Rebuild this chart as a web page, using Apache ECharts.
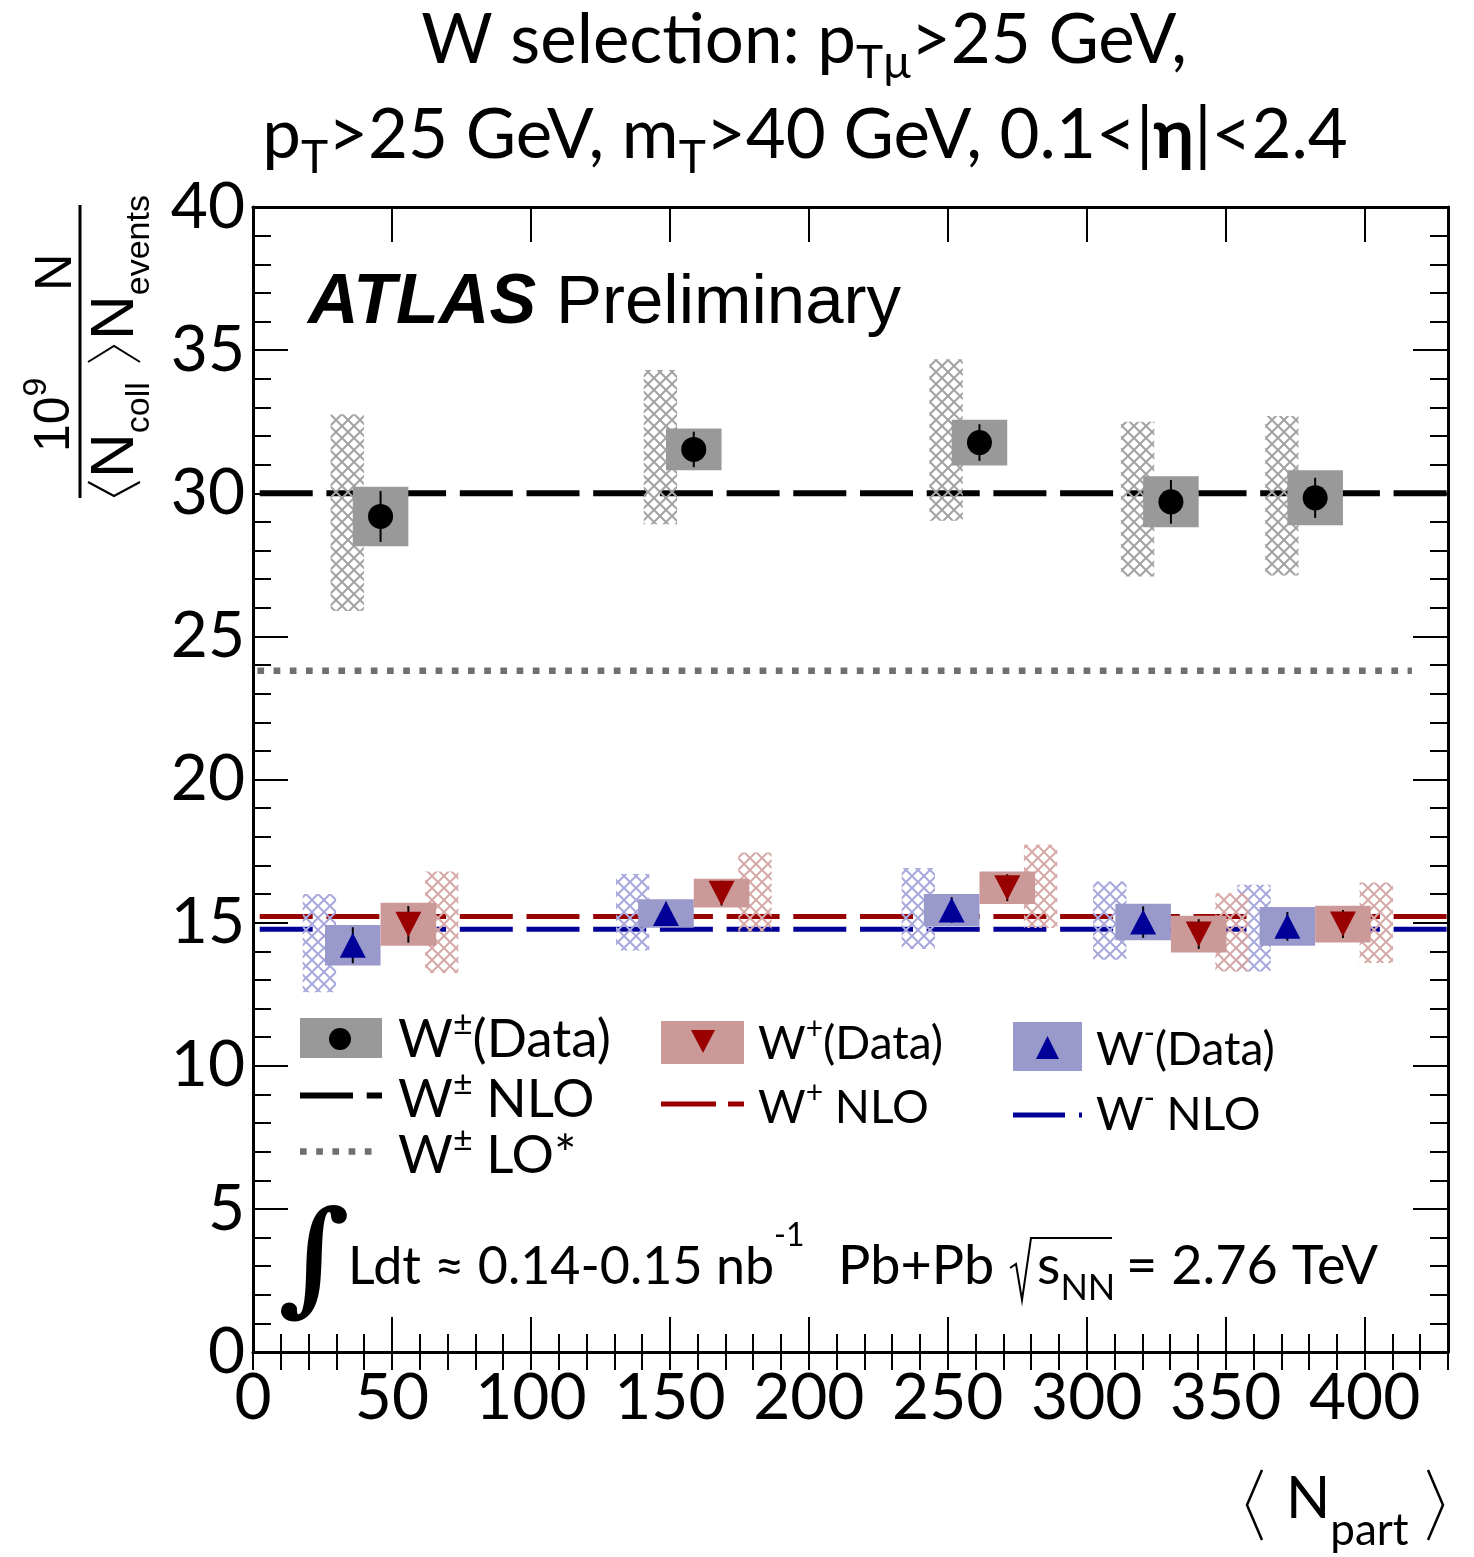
<!DOCTYPE html>
<html><head><meta charset="utf-8">
<script src="https://cdn.jsdelivr.net/npm/echarts@6/dist/echarts.min.js"></script>
<style>html,body{margin:0;padding:0;background:#fff}#c{width:1474px;height:1557px}</style>
</head><body><div id="c"></div>
<script>
// ---------------- data ----------------
const npart = [45.9, 158.6, 261.4, 330.3, 382.2];
// W+- (data)
const wpmVal  = [29.19, 31.53, 31.77, 29.70, 29.84];
const wpmStat = [0.89, 0.62, 0.64, 0.76, 0.70];
const wpmBox  = [1.04, 0.73, 0.80, 0.89, 0.96];
const wpmSysHi = [32.76, 34.31, 34.68, 32.50, 32.70];
const wpmSysLo = [25.89, 28.92, 29.04, 27.09, 27.13];
// W- (data)
const wmVal  = [14.21, 15.32, 15.44, 15.02, 14.87];
const wmStat = [0.63, 0.40, 0.45, 0.55, 0.50];
const wmBox  = [0.71, 0.50, 0.56, 0.64, 0.68];
const wmSysHi = [16.00, 16.70, 16.91, 16.44, 16.32];
const wmSysLo = [12.57, 14.03, 14.08, 13.70, 13.29];
// W+ (data)
const wpVal  = [14.94, 16.03, 16.22, 14.60, 14.95];
const wpStat = [0.64, 0.43, 0.47, 0.52, 0.49];
const wpBox  = [0.75, 0.50, 0.57, 0.64, 0.64];
const wpSysHi = [16.79, 17.45, 17.72, 16.03, 16.40];
const wpSysLo = [13.24, 14.69, 14.81, 13.29, 13.59];
// theory
const nloRange = [0, 430];
const loRange = [0, 417];
const wpmNLO = 30.0;
const wpNLO = 15.21;
const wmNLO = 14.77;
const wpmLO = 23.8;
// axes
const xTicks = [0, 50, 100, 150, 200, 250, 300, 350, 400];
const yTicks = [0, 5, 10, 15, 20, 25, 30, 35, 40];

// ---------------- rendering ----------------
const SHIFT = 10;          // horizontal display shift of W-/W+ points
const BOXW = 10;           // half width of uncertainty boxes
const HATCH = [6, 18];     // hatch box offset range from point

const chart = echarts.init(document.getElementById('c'), null, {renderer: 'canvas'});

function makeHatch(color) {
  const s = 12;
  const c = document.createElement('canvas');
  c.width = s; c.height = s;
  const g = c.getContext('2d');
  g.strokeStyle = color; g.lineWidth = 2;
  g.beginPath();
  g.moveTo(-1, -1); g.lineTo(s + 1, s + 1);
  g.moveTo(s + 1, -1); g.lineTo(-1, s + 1);
  g.stroke();
  return {image: c, repeat: 'repeat'};
}

const C = {
  gBox: '#999999', gHatch: '#a3a3a3',
  rBox: '#cc9999', rHatch: '#d7a8a8', rMark: '#990000',
  bBox: '#9999cc', bHatch: '#a8a8dc', bMark: '#000099',
  lo: '#6f6f6f'
};

function rectSeries(name, x, lo, hi, dx0, dx1, fill) {
  return {
    type: 'custom', name, silent: true, z: 2,
    data: x.map((v, i) => [v, lo[i], hi[i]]),
    encode: {x: 0, y: [1, 2]},
    renderItem: function (params, api) {
      const xv = api.value(0);
      const p0 = api.coord([xv + dx0, api.value(2)]);
      const p1 = api.coord([xv + dx1, api.value(1)]);
      return {type: 'rect', shape: {x: p0[0], y: p0[1], width: p1[0] - p0[0], height: p1[1] - p0[1]}, style: {fill}};
    }
  };
}
function errSeries(name, x, val, err, dx) {
  return {
    type: 'custom', name, silent: true, z: 3,
    data: x.map((v, i) => [v, val[i] - err[i], val[i] + err[i]]),
    encode: {x: 0, y: [1, 2]},
    renderItem: function (params, api) {
      const xv = api.value(0) + dx;
      const p0 = api.coord([xv, api.value(1)]);
      const p1 = api.coord([xv, api.value(2)]);
      return {type: 'line', shape: {x1: p0[0], y1: p0[1], x2: p1[0], y2: p1[1]}, style: {stroke: '#000', lineWidth: 2}};
    }
  };
}
function markSeries(name, x, val, dx, symbol, rot, color, size) {
  return {
    type: 'scatter', name, silent: true, symbol, symbolRotate: rot, symbolSize: size, z: 4,
    data: x.map((v, i) => [v + dx, val[i]]),
    itemStyle: {color, opacity: 1}
  };
}
function hLine(name, range, y, color, width, dash, offset) {
  return {
    type: 'line', name, silent: true, showSymbol: false, symbol: 'none', z: 1,
    data: [[range[0], y], [range[1], y]],
    lineStyle: {color, width, type: dash, dashOffset: offset, cap: 'butt'},
    animation: false
  };
}

const sub = (a, b) => a.map((v, i) => v - b[i]);
const add = (a, b) => a.map((v, i) => v + b[i]);

const series = [
  hLine('W+ NLO', nloRange, wpNLO, '#990000', 5, [53, 13.7], 60),
  hLine('W- NLO', nloRange, wmNLO, '#000099', 5, [53, 13.7], 60),
  hLine('W+- NLO', nloRange, wpmNLO, '#000000', 6, [53, 13.7], 60),
  hLine('W+- LO*', loRange, wpmLO, C.lo, 6.5, [6.7, 9.5], 11.8),
  // hatched boxes
  rectSeries('W+- sys2', npart, wpmSysLo, wpmSysHi, -HATCH[1], -HATCH[0], makeHatch(C.gHatch)),
  rectSeries('W- sys2', npart, wmSysLo, wmSysHi, -SHIFT - HATCH[1], -SHIFT - HATCH[0], makeHatch(C.bHatch)),
  rectSeries('W+ sys2', npart, wpSysLo, wpSysHi, SHIFT + HATCH[0], SHIFT + HATCH[1], makeHatch(C.rHatch)),
  // filled boxes
  rectSeries('W+- sys', npart, sub(wpmVal, wpmBox), add(wpmVal, wpmBox), -BOXW, BOXW, C.gBox),
  rectSeries('W- sys', npart, sub(wmVal, wmBox), add(wmVal, wmBox), -SHIFT - BOXW, -SHIFT + BOXW, C.bBox),
  rectSeries('W+ sys', npart, sub(wpVal, wpBox), add(wpVal, wpBox), SHIFT - BOXW, SHIFT + BOXW, C.rBox),
  // error bars
  errSeries('W+- stat', npart, wpmVal, wpmStat, 0),
  errSeries('W- stat', npart, wmVal, wmStat, -SHIFT),
  errSeries('W+ stat', npart, wpVal, wpStat, SHIFT),
  // markers
  markSeries('W+- (Data)', npart, wpmVal, 0, 'circle', 0, '#000', 25),
  markSeries('W- (Data)', npart, wmVal, -SHIFT, 'triangle', 0, C.bMark, [26, 25]),
  markSeries('W+ (Data)', npart, wpVal, SHIFT, 'triangle', 180, C.rMark, [26, 25])
];

// ---------- text helpers ----------
const mctx = document.createElement('canvas').getContext('2d');
function tw(t, f) { mctx.font = f; return mctx.measureText(t).width; }
const K = 0.35;
function run(x, base, segs, align, z) {
  const fonts = segs.map(s => `${s.it ? 'italic ' : ''}${s.b ? 'bold ' : ''}${s.s}px ${s.f || 'Lato'}`);
  const ws = segs.map((s, i) => tw(s.t, fonts[i]) + (s.sp || 0));
  const tot = ws.reduce((a, b) => a + b, 0);
  let cx = align === 'center' ? x - tot / 2 : (align === 'right' ? x - tot : x);
  return segs.map((s, i) => {
    const el = {type: 'text', x: cx, y: base + (s.dy || 0) - K * s.s, z: z || 100,
      style: {text: s.t, font: fonts[i], fill: s.c || '#000', align: 'left', textAlign: 'left', verticalAlign: 'middle', textVerticalAlign: 'middle'}};
    cx += ws[i];
    return el;
  });
}
function poly(points, w, color) {
  return {type: 'polyline', z: 100, shape: {points}, style: {stroke: color || '#000', lineWidth: w, fill: null}};
}
function rect(x, y, w, h, fill) {
  return {type: 'rect', z: 90, shape: {x, y, width: w, height: h}, style: {fill}};
}
function seg(x1, y1, x2, y2, color, w, dash, off) {
  return {type: 'line', z: 95, shape: {x1, y1, x2, y2}, style: {stroke: color, lineWidth: w, lineDash: dash || null, lineDashOffset: off || 0}};
}

const graphics = [];
// Title
graphics.push(...run(804, 65, [
  {t: 'W selection: p', s: 69}, {t: 'Tμ', s: 46, dy: 14}, {t: '>25 GeV,', s: 69}
], 'center'));
graphics.push(...run(805, 160, [
  {t: 'p', s: 69}, {t: 'T', s: 46, dy: 14}, {t: '>25 GeV, m', s: 69}, {t: 'T', s: 46, dy: 14},
  {t: '>40 GeV, 0.1<|', s: 69}, {t: 'η', s: 69, b: true}, {t: '|<2.4', s: 69}
], 'center'));
// ATLAS Preliminary
graphics.push(...run(308, 328, [{t: 'ATLAS', s: 70, b: true, it: true, f: "'Liberation Sans'"}]));
graphics.push(...run(556, 328, [{t: 'Preliminary', s: 69, f: "'Liberation Sans'"}]));

// Legend
graphics.push(rect(300, 1018, 82, 40, C.gBox));
graphics.push({type: 'circle', z: 95, shape: {cx: 340, cy: 1039, r: 11}, style: {fill: '#000'}});
graphics.push(...run(398, 1058, [{t: 'W', s: 53}, {t: '±', s: 34, dy: -22}, {t: '(Data)', s: 53}]));
graphics.push(rect(661, 1021, 83, 43, C.rBox));
graphics.push({type: 'polygon', z: 95, shape: {points: [[691, 1030], [715, 1030], [703, 1053]]}, style: {fill: C.rMark}});
graphics.push(...run(758, 1060, [{t: 'W', s: 46}, {t: '+', s: 30, dy: -20}, {t: '(Data)', s: 46}]));
graphics.push(rect(1013, 1022, 69, 49, C.bBox));
graphics.push({type: 'polygon', z: 95, shape: {points: [[1036, 1059], [1059, 1059], [1047.5, 1036]]}, style: {fill: C.bMark}});
graphics.push(...run(1096, 1066, [{t: 'W', s: 46}, {t: '-', s: 30, dy: -22}, {t: '(Data)', s: 46}]));

graphics.push(seg(300, 1095.5, 382, 1095.5, '#000', 6, [53, 13.7]));
graphics.push(...run(398, 1118, [{t: 'W', s: 53}, {t: '±', s: 34, dy: -22}, {t: ' NLO', s: 53}]));
graphics.push(seg(661, 1104, 744, 1104, '#990000', 5, [55, 12]));
graphics.push(...run(758, 1124, [{t: 'W', s: 46}, {t: '+', s: 30, dy: -20}, {t: ' NLO', s: 46}]));
graphics.push(seg(1013, 1115, 1082, 1115, '#000099', 5, [52, 14]));
graphics.push(...run(1096, 1131, [{t: 'W', s: 46}, {t: '-', s: 30, dy: -22}, {t: ' NLO', s: 46}]));
graphics.push(seg(300, 1151.5, 380, 1151.5, C.lo, 6.5, [6.7, 9.5]));
graphics.push(...run(398, 1174, [{t: 'W', s: 53}, {t: '±', s: 34, dy: -22}, {t: ' LO*', s: 53}]));

// Luminosity line
graphics.push(...run(278, 1310, [{t: '∫', s: 124, f: "'DejaVu Serif'", it: true, b: true}]));
graphics.push(...run(348, 1285, [{t: 'Ldt ≈ 0.14-0.15 nb', s: 52}, {t: '-1', s: 32, dy: -38}]));
graphics.push(...run(838, 1285, [{t: 'Pb+Pb', s: 54}]));
graphics.push(poly([[1010, 1268], [1016, 1264], [1022, 1300], [1031, 1238], [1112, 1238]], 2));
graphics.push(...run(1037, 1285, [{t: 's', s: 54}, {t: 'NN', s: 36, dy: 16}]));
graphics.push(...run(1126, 1285, [{t: '= 2.76 TeV', s: 54}]));

// X axis title
graphics.push(poly([[1262, 1470], [1247, 1505], [1262, 1540]], 2.5));
graphics.push(...run(1286, 1520, [{t: 'N', s: 58}, {t: 'part', s: 44, dy: 26}]));
graphics.push(poly([[1428, 1470], [1443, 1505], [1428, 1540]], 2.5));

// Y axis title (rotated group; local x = along text upward, local y = to the right)
const yt = [];
yt.push({type: 'line', shape: {x1: 0, y1: 0, x2: 293, y2: 0}, style: {stroke: '#000', lineWidth: 3}});
yt.push(...run(46, -7, [{t: '10', s: 50, f: "'Liberation Sans'"}, {t: '9', s: 34, f: "'Liberation Sans'", dy: -24}]));
yt.push(...run(207, -5, [{t: 'N', s: 52, f: "'Liberation Sans'"}]));
yt.push(poly([[16, 8], [2, 34], [16, 60]], 2));
yt.push(...run(20, 58, [{t: 'N', s: 62, f: "'Liberation Sans'"}, {t: 'coll', s: 34, f: "'Liberation Sans'", dy: 14}]));
yt.push(poly([[136, 8], [152, 34], [136, 60]], 2));
yt.push(...run(158, 58, [{t: 'N', s: 62, f: "'Liberation Sans'"}, {t: 'events', s: 34, f: "'Liberation Sans'", dy: 14}]));
graphics.push({type: 'group', x: 80, y: 498, rotation: Math.PI / 2, z: 100, children: yt});

const axCommon = {
  type: 'value', min: 0, max: 430,
  splitLine: {show: false},
  axisLine: {show: true, onZero: false, lineStyle: {color: '#000', width: 3}},
  axisTick: {show: true, inside: true, length: 35, lineStyle: {color: '#000', width: 2}}
};
const tickLabelFmt = v => (xTicks.indexOf(v) >= 0 ? String(v) : '');

const option = {
  animation: false,
  backgroundColor: '#fff',
  grid: {left: 253, right: 26, top: 207, bottom: 205, containLabel: false, outerBoundsMode: 'none'},
  xAxis: [
    Object.assign({}, axCommon, {position: 'bottom', interval: 50,
      axisLabel: {show: true, formatter: tickLabelFmt, showMaxLabel: false, hideOverlap: false, fontSize: 64, fontFamily: 'Lato', color: '#000', margin: 14}}),
    Object.assign({}, axCommon, {position: 'top', interval: 50, axisLabel: {show: false}}),
    Object.assign({}, axCommon, {position: 'bottom', interval: 10, axisLine: {show: false}, axisLabel: {show: false},
      axisTick: {show: true, inside: true, length: 18, lineStyle: {color: '#000', width: 2}}}),
    Object.assign({}, axCommon, {position: 'top', interval: 10, axisLine: {show: false}, axisLabel: {show: false},
      axisTick: {show: true, inside: true, length: 18, lineStyle: {color: '#000', width: 2}}})
  ],
  yAxis: [
    {type: 'value', min: 0, max: 40, interval: 5, position: 'left', splitLine: {show: false},
      axisLine: {show: true, onZero: false, lineStyle: {color: '#000', width: 3}},
      axisTick: {show: true, inside: true, length: 35, lineStyle: {color: '#000', width: 2}},
      minorTick: {show: true, splitNumber: 5, length: 18, lineStyle: {color: '#000', width: 2}},
      axisLabel: {show: true, formatter: v => (yTicks.indexOf(v) >= 0 ? String(v) : ''), fontSize: 64, fontFamily: 'Lato', color: '#000', margin: 8}},
    {type: 'value', min: 0, max: 40, interval: 5, position: 'right', splitLine: {show: false},
      axisLine: {show: true, onZero: false, lineStyle: {color: '#000', width: 3}},
      axisTick: {show: true, inside: true, length: 35, lineStyle: {color: '#000', width: 2}},
      minorTick: {show: true, splitNumber: 5, length: 18, lineStyle: {color: '#000', width: 2}},
      axisLabel: {show: false}}
  ],
  series: series,
  graphic: graphics
};
chart.setOption(option);
</script>
</body></html>
